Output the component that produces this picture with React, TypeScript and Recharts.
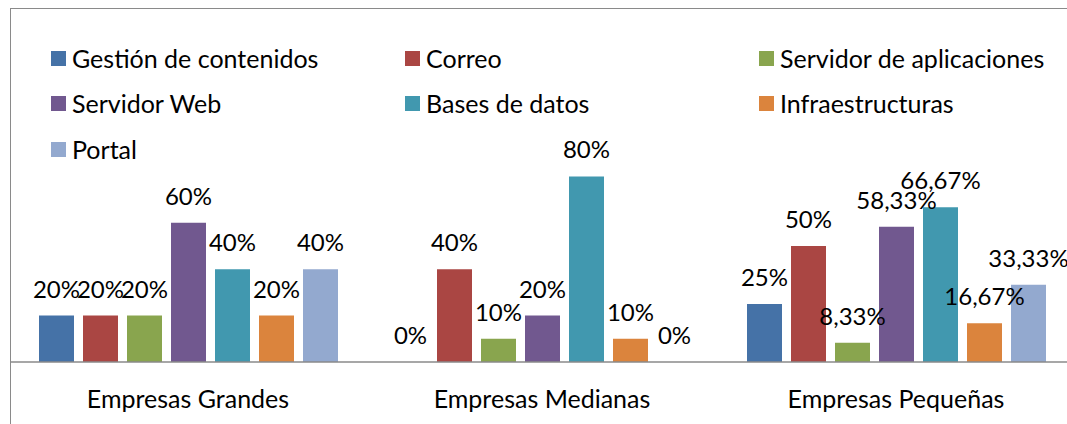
import { Bar, BarChart, LabelList, Legend, XAxis, YAxis } from "recharts";

const categories = ["Empresas Grandes", "Empresas Medianas", "Empresas Pequeñas"];

const gestion = [20, 0, 25];
const correo = [20, 40, 50];
const servidorApp = [20, 10, 8.33];
const servidorWeb = [60, 20, 58.33];
const basesDatos = [40, 80, 66.67];
const infra = [20, 10, 16.67];
const portal = [40, 0, 33.33];

const series = [
  { key: "gestion", name: "Gestión de contenidos", color: "#4572A7", values: gestion },
  { key: "correo", name: "Correo", color: "#AA4643", values: correo },
  { key: "servidorApp", name: "Servidor de aplicaciones", color: "#89A54E", values: servidorApp },
  { key: "servidorWeb", name: "Servidor Web", color: "#71588F", values: servidorWeb },
  { key: "basesDatos", name: "Bases de datos", color: "#4198AF", values: basesDatos },
  { key: "infra", name: "Infraestructuras", color: "#DB843D", values: infra },
  { key: "portal", name: "Portal", color: "#93A9CF", values: portal }
];

const data = categories.map((name, i) => {
  const row: Record<string, string | number> = { name };
  series.forEach((s) => {
    row[s.key] = s.values[i];
  });
  return row;
});

const FONT = "Lato, 'Open Sans', sans-serif";
const FONT_SIZE = 25;
const LABEL_SIZE = 24;

const formatPct = (v: unknown) => {
  const n = Number(v);
  if (Number.isInteger(n)) return `${n}%`;
  return `${n.toFixed(2).replace(".", ",")}%`;
};

const renderPctLabel = (props: any) => {
  const { x, y, width, height, value } = props;
  if (value == null) return null;
  const top = Math.min(Number(y), Number(y) + Number(height || 0));
  return (
    <text
      x={Number(x) + Number(width) / 2}
      y={top - 18}
      textAnchor="middle"
      fill="#000"
      fontSize={LABEL_SIZE}
      fontFamily={FONT}
    >
      {formatPct(value)}
    </text>
  );
};

// zero bars get dropped otherwise, and with them their "0%" label
const minSize = (value: any) => (Number(value) === 0 ? 0.01 : 0);

function LegendGrid() {
  return (
    <div
      style={{
        position: "absolute",
        left: 40,
        top: 29,
        display: "grid",
        gridTemplateColumns: "354px 354px 354px",
        gridAutoRows: "45.6px",
        fontFamily: FONT,
        fontSize: FONT_SIZE,
        color: "#000"
      }}
    >
      {series.map((s) => (
        <div key={s.key} style={{ display: "flex", alignItems: "center", height: 40 }}>
          <span
            style={{
              display: "inline-block",
              width: 15,
              height: 15,
              background: s.color,
              marginRight: 6
            }}
          />
          <span style={{ whiteSpace: "nowrap", lineHeight: 1 }}>{s.name}</span>
        </div>
      ))}
    </div>
  );
}

export default function App() {
  return (
    <div style={{ position: "fixed", inset: 0, overflow: "hidden", background: "#fff" }}>
      <div
        style={{
          position: "absolute",
          left: 10,
          top: 8,
          width: 1080,
          height: 440,
          borderTop: "1px solid #8a8a8a",
          borderLeft: "1px solid #8a8a8a"
        }}
      >
        <BarChart
          width={1062}
          height={415}
          data={data}
          margin={{ top: 121, right: 0, bottom: 0, left: 0 }}
          barGap={9}
          barSize={35}
          style={{ fontFamily: FONT }}
        >
          <XAxis
            dataKey="name"
            height={62}
            axisLine={{ stroke: "#8a8a8a", strokeWidth: 1.5 }}
            tickLine={false}
            tickMargin={22}
            tick={{ fill: "#000", fontSize: FONT_SIZE, fontFamily: FONT }}
            interval={0}
          />
          <YAxis hide domain={[0, 100]} />
          <Legend
            layout="vertical"
            align="center"
            verticalAlign="middle"
            wrapperStyle={{ top: 0, left: 0, width: 1062, height: 0 }}
            content={() => <LegendGrid />}
          />
          {series.map((s) => (
            <Bar
              key={s.key}
              dataKey={s.key}
              name={s.name}
              fill={s.color}
              minPointSize={minSize}
              isAnimationActive={false}
            >
              <LabelList dataKey={s.key} content={renderPctLabel} />
            </Bar>
          ))}
        </BarChart>
      </div>
    </div>
  );
}
